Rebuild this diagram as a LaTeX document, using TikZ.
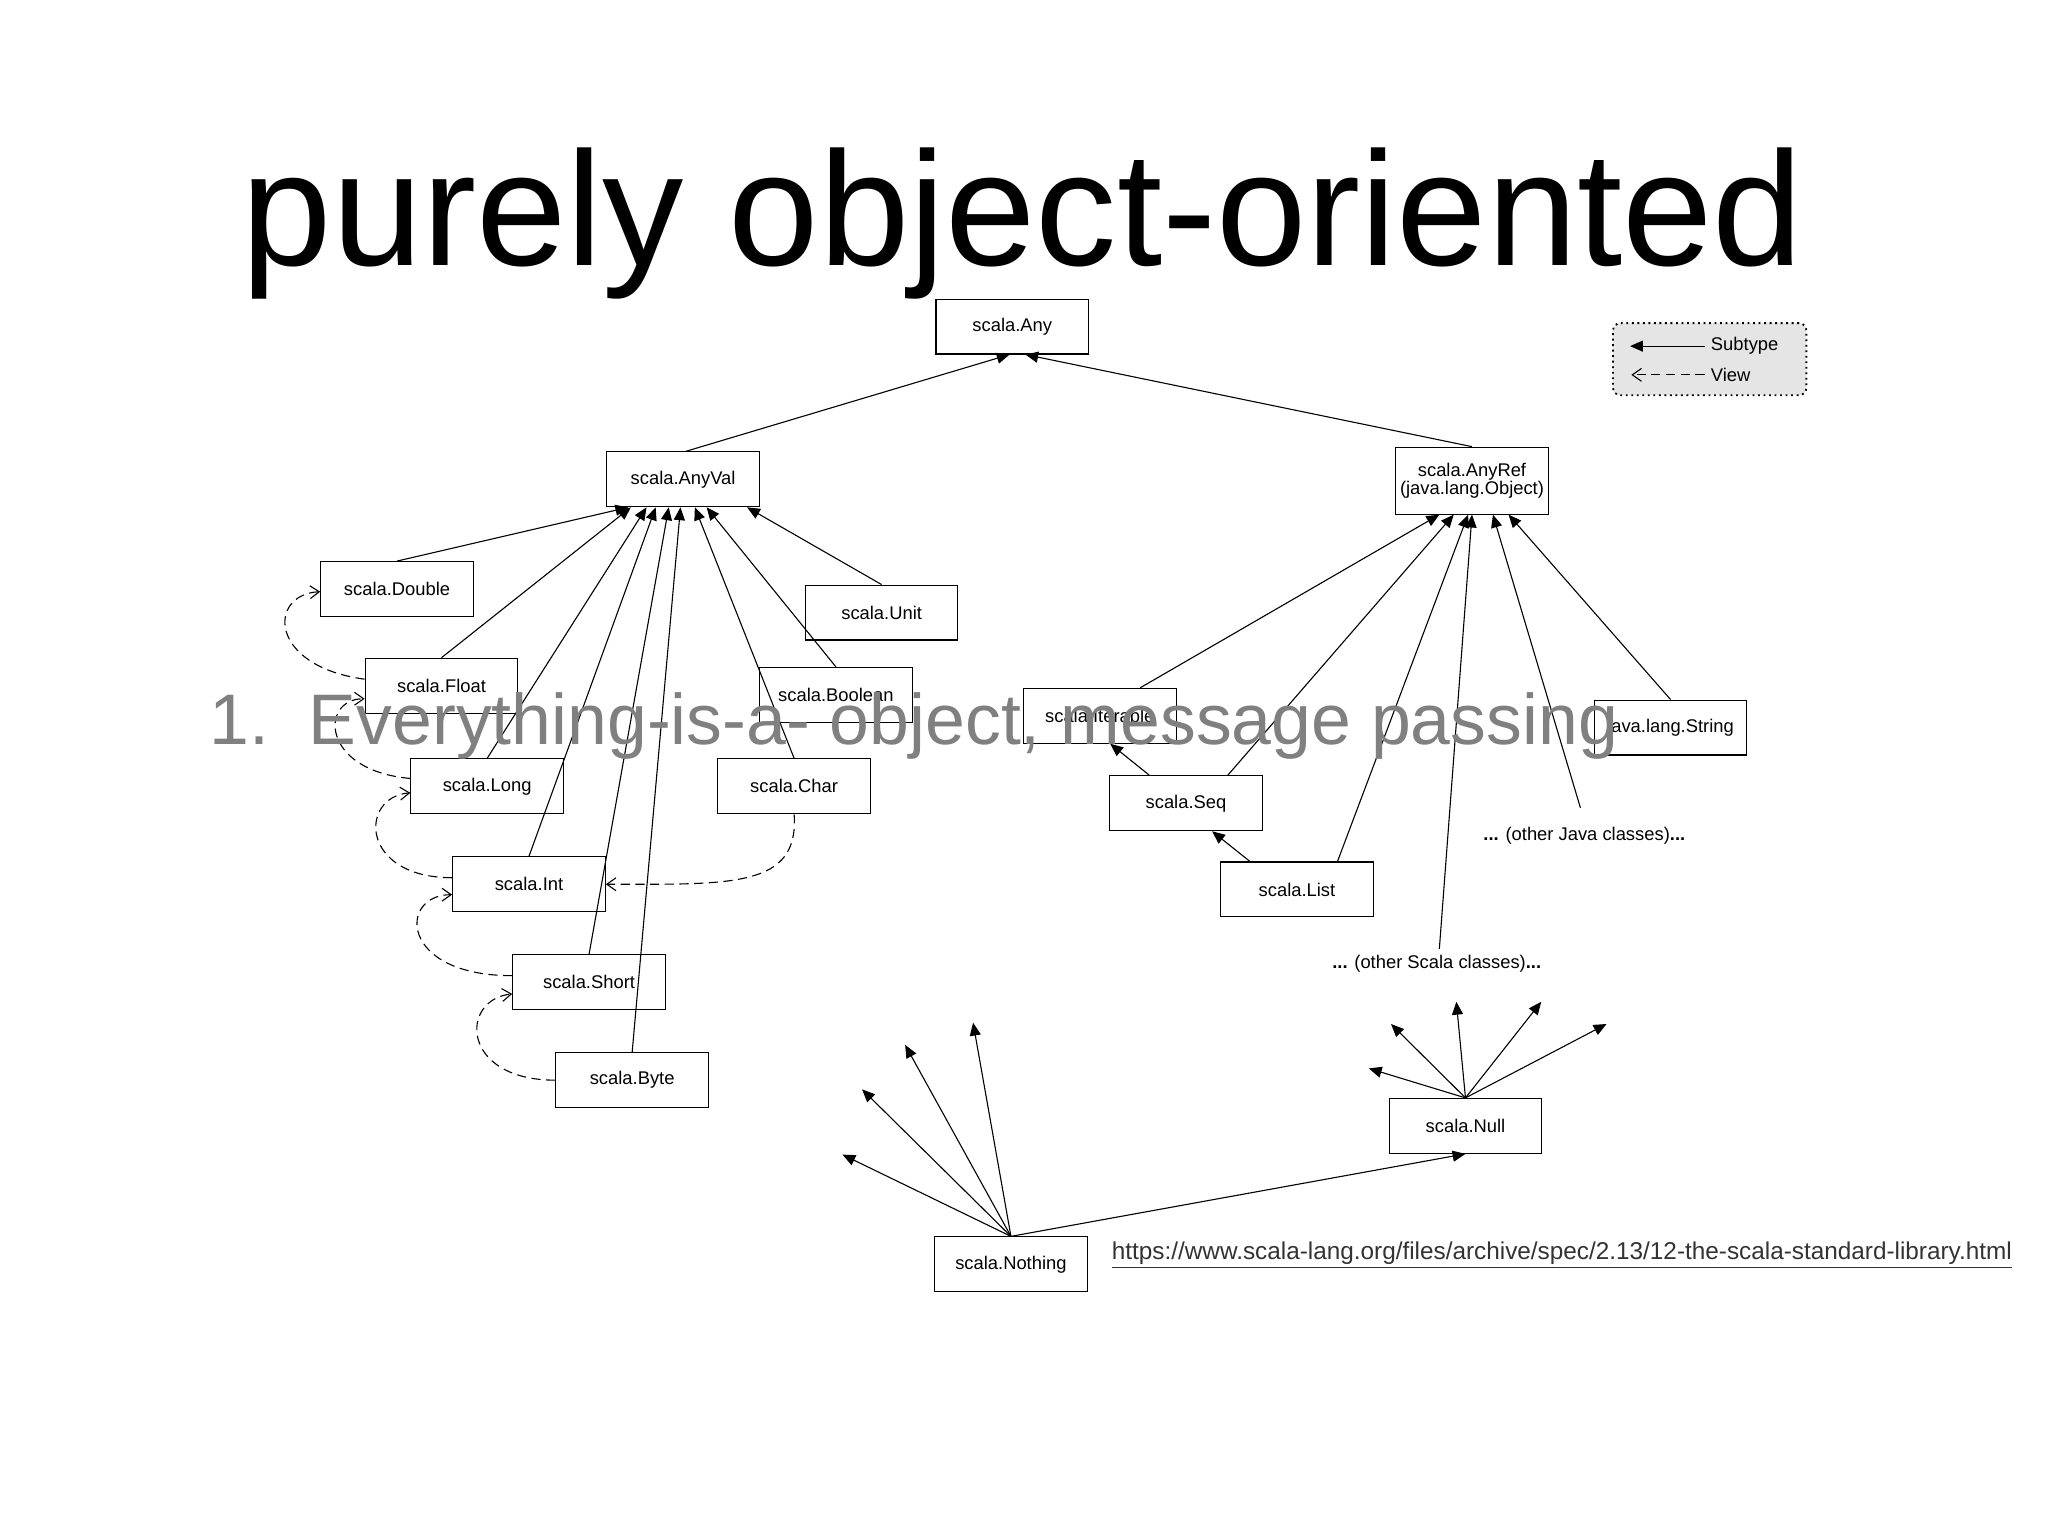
\documentclass[tikz,border=0pt]{standalone}
\usepackage{fontspec}
\setmainfont{Liberation Sans}
\usetikzlibrary{arrows.meta,calc}
\begin{document}
\begin{tikzpicture}[x=0.025cm,y=-0.025cm,
  cls/.style={draw,line width=0.6pt,minimum width=2.92cm,minimum height=1.05cm,inner sep=1pt,font=\fontsize{10}{11.5}\selectfont,align=center},
  sub/.style={-{Triangle[length=7pt,width=6pt]},line width=0.6pt},
  view/.style={-{Straight Barb[length=5pt,width=7pt]},dashed,dash pattern=on 5pt off 3pt,line width=0.6pt},
  lbl/.style={font=\fontsize{10}{11.5}\selectfont}]
\useasboundingbox (0,0) rectangle (1568,1176);
\node[font=\fontsize{10}{12}\selectfont] (title) at (783,171) {\resizebox{850pt}{!}{purely object-oriented}};
\node[cls] (Any) at (775,250) {scala.Any};
\node[cls] (AnyVal) at (523,367) {scala.AnyVal};
\node[cls,minimum height=1.28cm] (AnyRef) at (1127,368) {scala.AnyRef\\[-2pt](java.lang.Object)};
\node[cls] (Double) at (304,451) {scala.Double};
\node[cls] (Float) at (338,525) {scala.Float};
\node[cls] (Unit) at (675,469) {scala.Unit};
\node[cls] (Boolean) at (640,532) {scala.Boolean};
\node[cls] (Long) at (373,602) {scala.Long};
\node[cls] (Char) at (608,602) {scala.Char};
\node[cls] (Int) at (405,677) {scala.Int};
\node[cls] (Short) at (451,752) {scala.Short};
\node[cls] (Byte) at (484,827) {scala.Byte};
\node[cls] (Iterable) at (842,548) {scala.Iterable};
\node[cls] (String) at (1279,557) {java.lang.String};
\node[cls] (Seq) at (908,615) {scala.Seq};
\node[cls] (List) at (993,681) {scala.List};
\node[cls] (Null) at (1122,862) {scala.Null};
\node[cls] (Nothing) at (774,968) {scala.Nothing};
\node[lbl] (java) at (1213,640) {\textbf{...} (other Java classes)\textbf{...}};
\node[lbl] (scl) at (1100,738) {\textbf{...} (other Scala classes)\textbf{...}};
% subtype arrows
\draw[sub] ($(AnyVal.north)+(2,0)$) -- ($(Any.south)+(-2,0)$);
\draw[sub] (AnyRef.north) -- ($(Any.south)+(10,0)$);
\foreach \n/\d in {Double/-42,Float/-40,Long/-28,Int/-21,Short/-11,Byte/-2,Char/9,Boolean/18,Unit/49}
  \draw[sub] (\n.north) -- ($(AnyVal.south)+(\d,0)$);
\draw[sub] ($(Iterable.north)+(31,0)$) -- ($(AnyRef.south)+(-25,0)$);
\draw[sub] ($(Seq.north)+(32,0)$) -- ($(AnyRef.south)+(-14,0)$);
\draw[sub] ($(List.north)+(31,0)$) -- ($(AnyRef.south)+(-3,0)$);
\draw[sub] ($(scl.north)+(2,0)$) -- ($(AnyRef.south)+(0,0)$);
\draw[sub] ($(java.north)+(-3,-10)$) -- ($(AnyRef.south)+(16,0)$);
\draw[sub] (String.north) -- ($(AnyRef.south)+(28,0)$);
\draw[sub] ($(Seq.north)+(-28,0)$) -- ($(Iterable.south)+(8,0)$);
\draw[sub] ($(List.north)+(-36,0)$) -- ($(Seq.south)+(20,0)$);
\coordinate (n1) at (645,884); \coordinate (n2) at (660,834);
\coordinate (n3) at (693,800); \coordinate (n4) at (745,783);
\foreach \c in {n1,n2,n3,n4} \draw[sub] (Nothing.north) -- (\c);
\draw[sub] (Nothing.north) -- ($(Null.south)+(0,0)$);
\coordinate (u1) at (1048,818); \coordinate (u2) at (1065,784);
\coordinate (u3) at (1115,767); \coordinate (u4) at (1180,767); \coordinate (u5) at (1230,784);
\foreach \c in {u1,u2,u3,u4,u5} \draw[sub] (Null.north) -- (\c);
% views
\draw[view] ($(Float.west)+(0,-5)$) .. controls (205,510) and (205,455) .. ($(Double.west)+(0,2)$);
\draw[view] ($(Long.west)+(0,-6)$) .. controls (245,590) and (245,535) .. ($(Float.west)+(0,10)$);
\draw[view] ($(Int.west)+(0,-5)$) .. controls (275,672) and (275,610) .. ($(Long.west)+(0,5)$);
\draw[view] ($(Short.west)+(0,-5)$) .. controls (305,747) and (305,685) .. ($(Int.west)+(0,8)$);
\draw[view] ($(Byte.west)+(0,0)$) .. controls (352,827) and (352,765) .. ($(Short.west)+(0,9)$);
\draw[view] (Char.south) .. controls (612,680) and (560,677) .. (Int.east);
% legend
\node[draw,dotted,line width=1pt,rounded corners=4pt,fill=gray!20,minimum width=3.7cm,minimum height=1.38cm] (leg) at (1309,275) {};
\node[lbl,anchor=west] (lsub) at (1305,265) {Subtype};
\node[lbl,anchor=west] (lview) at (1305,287) {View};
\draw[sub] (lsub.west) -- ++(-57,0);
\draw[view] (lview.west) -- ++(-56,0);
% overlay
\node[text=black!50,anchor=west,inner sep=0] (ev) at (160,556) {\resizebox{767pt}{!}{1.\ \ Everything-is-a- object, message passing}};
\node[anchor=west,inner sep=0,text=black!80] (url) at (851,961) {\resizebox{490pt}{!}{\underline{https://www.scala-lang.org/files/archive/spec/2.13/12-the-scala-standard-library.html}}};
\end{tikzpicture}
\end{document}
